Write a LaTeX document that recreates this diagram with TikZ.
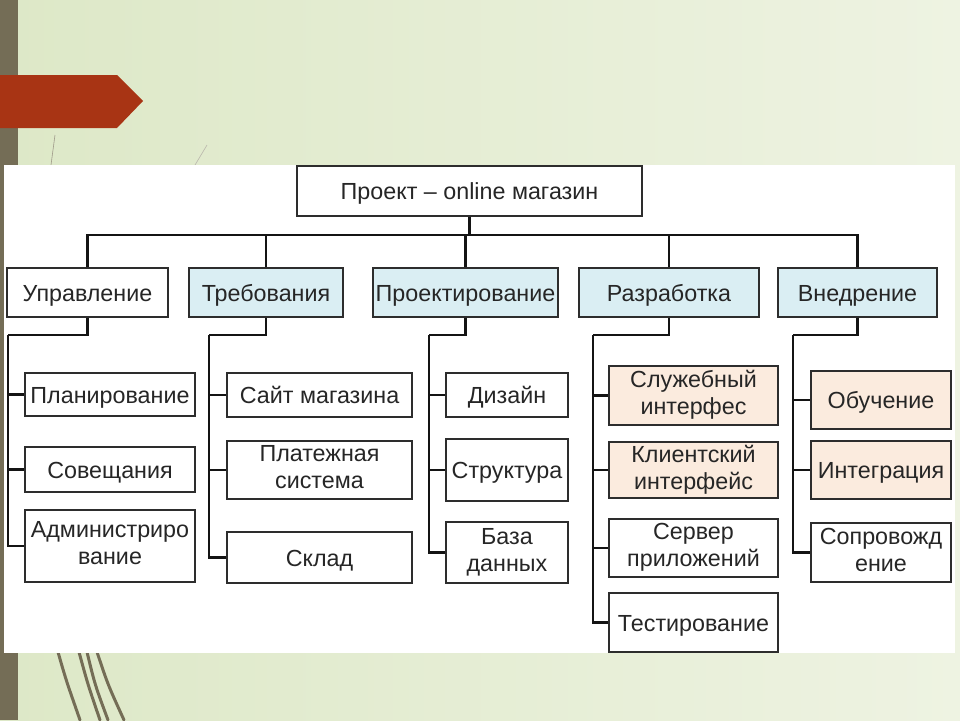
\documentclass[tikz,border=0pt]{standalone}
\usepackage{fontspec}
\setmainfont{Liberation Sans}
\usepackage{xcolor}
\usetikzlibrary{positioning}
\definecolor{bgleft}{RGB}{221,232,199}
\definecolor{bgright}{RGB}{238,243,226}
\definecolor{stripolive}{RGB}{116,109,86}
\definecolor{tagred}{RGB}{168,52,20}
\definecolor{boxblue}{RGB}{218,238,243}
\definecolor{boxpeach}{RGB}{251,235,222}
\definecolor{lineblack}{RGB}{20,20,20}
\definecolor{boxline}{RGB}{45,45,45}
\newcommand\boxstrut{\rule[-6pt]{0pt}{29pt}}

\begin{document}
\begin{tikzpicture}[
  x=1pt, y=-1pt,
  box/.style={rectangle, draw=boxline, fill=white, line width=1.7pt, align=center, inner sep=0pt,
    font=\fontsize{23.3}{27}\selectfont, text=black!85,
    execute at begin node=\boxstrut, execute at end node=\boxstrut},
  blue/.style={fill=boxblue},
  peach/.style={fill=boxpeach},
  conn/.style={draw=lineblack, line width=2.1pt},
  grass/.style={draw=stripolive, line width=3pt, line cap=round}
]
\useasboundingbox (0,0) rectangle (960,720);
% background
\shade[left color=bgleft, right color=bgright] (0,0) rectangle (960,720);
\fill[stripolive] (0,0) rectangle (18,720);
\fill[tagred] (0,75) -- (117,75) -- (143,101) -- (117,128) -- (0,128) -- cycle;
\draw[stripolive!70, line width=0.6pt] (55,135) -- (51,165);
\draw[stripolive!50, line width=0.6pt] (207,145) -- (195,165);
\draw[grass] (58,652) .. controls (66,680) .. (80,720);
\draw[grass] (79,652) .. controls (88,685) .. (100,720);
\draw[grass] (87,652) .. controls (95,685) .. (108,720);
\draw[grass] (97,652) .. controls (108,685) .. (124,720);
\fill[white] (4,165) rectangle (955,653);

% root and first level
\node[box, minimum width=345pt, minimum height=50pt] (root) at (469.5,191) {Проект -- online магазин};
\node[box, minimum width=161pt, minimum height=49pt] (upr) at (87.5,292.5) {Управление};
\node[box, blue, minimum width=154pt, minimum height=49pt] (treb) at (266,292.5) {Требования};
\node[box, blue, minimum width=185pt, minimum height=49pt] (proekt) at (465.5,292.5) {Проектирование};
\node[box, blue, minimum width=180pt, minimum height=49pt] (razr) at (669,292.5) {Разработка};
\node[box, blue, minimum width=159pt, minimum height=49pt] (vned) at (857.5,292.5) {Внедрение};

% Управление
\node[box, minimum width=170pt, minimum height=43pt] (plan) at (110,394.5) {Планирование};
\node[box, minimum width=170pt, minimum height=45pt] (sov) at (110,469.5) {Совещания};
\node[box, minimum width=170pt, minimum height=72pt] (admin) at (110,546) {Администриро\\вание};
% Требования
\node[box, minimum width=185pt, minimum height=44pt] (sait) at (319.5,395) {Сайт магазина};
\node[box, minimum width=185pt, minimum height=58pt] (plat) at (319.5,470) {Платежная\\система};
\node[box, minimum width=185pt, minimum height=51pt] (sklad) at (319.5,557.5) {Склад};
% Проектирование
\node[box, minimum width=122pt, minimum height=44pt] (dizain) at (507,395) {Дизайн};
\node[box, minimum width=122pt, minimum height=62pt] (strukt) at (507,470) {Структура};
\node[box, minimum width=122pt, minimum height=61pt] (baza) at (507,552.5) {База\\данных};
% Разработка
\node[box, peach, minimum width=169pt, minimum height=59pt] (sluzh) at (693.5,395.5) {Служебный\\интерфес};
\node[box, peach, minimum width=169pt, minimum height=56pt] (klient) at (693.5,470) {Клиентский\\интерфейс};
\node[box, minimum width=169pt, minimum height=58pt] (server) at (693.5,548) {Сервер\\приложений};
\node[box, minimum width=169pt, minimum height=59pt] (test) at (693.5,622.5) {Тестирование};
% Внедрение
\node[box, peach, minimum width=140pt, minimum height=58pt] (obuch) at (881,400) {Обучение};
\node[box, peach, minimum width=140pt, minimum height=58pt] (integr) at (881,470) {Интеграция};
\node[box, minimum width=140pt, minimum height=59pt] (sopr) at (881,552.5) {Сопровожд\\ение};

% connectors
\coordinate (bus) at (0,235);
\foreach \p in {upr,treb,proekt,razr,vned}
  \draw[conn] (root.south) -- (root.south |- bus) -| (\p.north);

\coordinate (uprS) at (8,335);
\coordinate (trebS) at (209,335);
\coordinate (proektS) at (429,335);
\coordinate (razrS) at (593,335);
\coordinate (vnedS) at (793,335);
\draw[conn] (upr.south) |- (uprS);
\draw[conn] (treb.south) |- (trebS);
\draw[conn] (proekt.south) |- (proektS);
\draw[conn] (razr.south) |- (razrS);
\draw[conn] (vned.south) |- (vnedS);
\foreach \c in {plan,sov,admin} \draw[conn] (uprS) |- (\c.west);
\foreach \c in {sait,plat,sklad} \draw[conn] (trebS) |- (\c.west);
\foreach \c in {dizain,strukt,baza} \draw[conn] (proektS) |- (\c.west);
\foreach \c in {sluzh,klient,server,test} \draw[conn] (razrS) |- (\c.west);
\foreach \c in {obuch,integr,sopr} \draw[conn] (vnedS) |- (\c.west);
\end{tikzpicture}
\end{document}
